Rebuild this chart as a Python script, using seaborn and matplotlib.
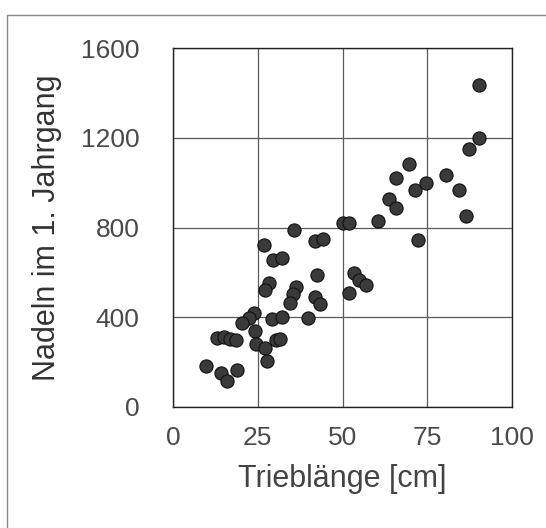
import matplotlib
matplotlib.use("Agg")
import matplotlib.pyplot as plt
import seaborn as sns
import pandas as pd
from matplotlib.lines import Line2D

trieblaenge = [90.3, 90.3, 87.4, 69.5, 65.8, 71.5, 74.6, 80.5, 63.6, 65.9,
               84.4, 86.4, 50.0, 52.0, 60.6, 72.4, 53.5, 55.0, 56.9, 52.0,
               35.8, 41.8, 44.3, 26.7, 29.6, 32.1, 42.6, 28.2, 27.2, 36.2,
               35.5, 34.5, 41.8, 43.5, 39.7, 23.8, 22.4, 20.5, 24.3, 29.2,
               32.1, 13.0, 15.0, 16.8, 18.7, 24.5, 27.2, 30.3, 31.5, 27.7,
               9.7, 14.1, 16.0, 19.0]
nadeln = [1435, 1200, 1150, 1085, 1020, 965, 1000, 1035, 925, 885,
          965, 850, 820, 820, 828, 745, 595, 565, 545, 510,
          790, 738, 748, 720, 655, 665, 587, 553, 522, 535,
          502, 465, 492, 457, 397, 418, 398, 375, 340, 390,
          403, 308, 314, 305, 300, 280, 263, 300, 305, 204,
          184, 152, 115, 167]
x_ticks = [0, 25, 50, 75, 100]
y_ticks = [0, 400, 800, 1200, 1600]
x_label = "Trieblänge [cm]"
y_label = "Nadeln im 1. Jahrgang"

df = pd.DataFrame({"x": trieblaenge, "y": nadeln})

sns.set_style("white")
plt.rcParams["font.family"] = ["Liberation Sans", "DejaVu Sans"]

fig = plt.figure(figsize=(5.46, 5.28), dpi=100)
ax = fig.add_axes([173 / 546, 1 - 407 / 528, (512 - 173) / 546, (407 - 48) / 528])

sns.scatterplot(data=df, x="x", y="y", ax=ax, s=90, color="#3a3a3a",
                edgecolor="#111111", linewidth=0.8, zorder=3)

ax.set_xlim(0, 100)
ax.set_ylim(0, 1600)
ax.set_xticks(x_ticks)
ax.set_yticks(y_ticks)
ax.grid(True, color="#5a5a5a", linewidth=0.9)
ax.set_axisbelow(True)
for sp in ax.spines.values():
    sp.set_color("#222222")
    sp.set_linewidth(1.0)
ax.tick_params(axis="both", direction="out", length=6, width=0.8, color="#333333",
               labelsize=19, labelcolor="#4a4a4a")
ax.tick_params(axis="y", pad=18)
ax.tick_params(axis="x", pad=8)
ax.set_xlabel(x_label, fontsize=22, color="#444444", labelpad=10)
ax.set_ylabel(y_label, fontsize=22, color="#333333", labelpad=14)

# outer frame
fig.add_artist(Line2D([7 / 546, 7 / 546], [0, 1 - 15 / 528], transform=fig.transFigure,
                      color="#888888", linewidth=1.0))
fig.add_artist(Line2D([7 / 546, 1], [1 - 15 / 528, 1 - 15 / 528], transform=fig.transFigure,
                      color="#888888", linewidth=1.0))

fig.savefig("out.png", dpi=100, facecolor="white")
